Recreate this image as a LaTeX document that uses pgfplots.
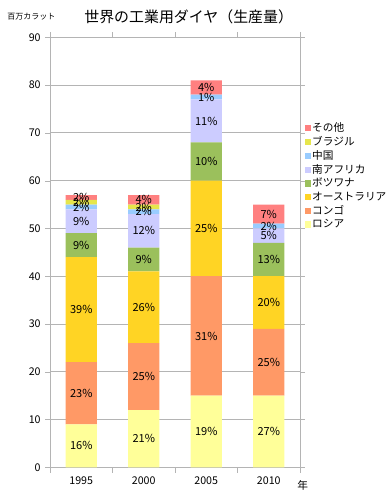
\documentclass[border=0pt]{standalone}
\usepackage{fontspec}
\setmainfont{Noto Sans CJK JP}
\usepackage{pgfplots}
\pgfplotsset{compat=1.18}
\usepackage{pgfplotstable}

\definecolor{cRus}{HTML}{FFFF99}
\definecolor{cCon}{HTML}{FF9966}
\definecolor{cAus}{HTML}{FFD424}
\definecolor{cBot}{HTML}{9BC05C}
\definecolor{cSaf}{HTML}{CCCCFF}
\definecolor{cChi}{HTML}{99CCFF}
\definecolor{cBra}{HTML}{E6E64C}
\definecolor{cOth}{HTML}{FF8080}
\definecolor{axgray}{HTML}{B4B4B4}

\pgfplotstableread{
x russia congo australia botswana safrica china brazil other
0 9 13 22 5 5 1 1 1
1 12 14 15 5 7 1 1 2
2 15 25 20 8 9 1 0 3
3 15 14 11 7 3 1 0 4
}\proddata

\pgfplotstableread{
x y lab
0 4.5 16
0 15.5 23
0 33 39
0 46.5 9
0 51.5 9
0 54.5 2
0 55.5 2
0 56.5 2
1 6 21
1 19 25
1 33.5 26
1 43.5 9
1 49.5 12
1 53.5 2
1 54.5 2
1 56 4
2 7.5 19
2 27.5 31
2 50 25
2 64 10
2 72.5 11
2 77.5 1
2 79.5 4
3 7.5 27
3 22 25
3 34.5 20
3 43.5 13
3 48.5 5
3 50.5 2
3 53 7
}\labdata

\pgfplotsset{
  sq/.style={fill=#1, draw=none,
    legend image code/.code={\fill[#1] (0pt,-2.4pt) rectangle (4.8pt,2.4pt);}},
  common/.style={
    scale only axis, width=187.5pt, height=322.5pt,
    xmin=-0.5, xmax=3.5, ymin=0, ymax=90,
  }
}

\begin{document}
\begin{tikzpicture}
\useasboundingbox (-37.5pt,-24.5pt) rectangle (255pt,350.5pt);
\begin{axis}[
  common,
  ybar stacked, bar width=0.5,
  axis line style={axgray},
  ymajorgrids, grid style={axgray, line width=0.6pt},
  ytick={0,10,...,90},
  xtick={0,1,2,3}, xticklabels={1995,2000,2005,2010},
  minor xtick={-0.5,0.5,1.5,2.5,3.5},
  major x tick style={draw=none},
  minor x tick style={axgray},
  y tick style={axgray},
  tick align=outside,
  major tick length=3.5pt, minor tick length=4pt,
  ticklabel style={font=\fontsize{8}{9}\selectfont, text=black},
  /pgf/number format/assume math mode=true,
  reverse legend,
  legend cell align=left,
  legend style={at={(axis description cs:1.018,0.805)}, anchor=north west,
    draw=none, fill=none, font=\fontsize{8}{8.5}\selectfont,
    inner sep=0pt, row sep=0.6pt,
    nodes={inner sep=0.8pt}},
  clip=false,
]
\addplot[sq=cRus] table[x=x, y=russia] {\proddata};
\addlegendentry{ロシア}
\addplot[sq=cCon] table[x=x, y=congo] {\proddata};
\addlegendentry{コンゴ}
\addplot[sq=cAus] table[x=x, y=australia] {\proddata};
\addlegendentry{オーストラリア}
\addplot[sq=cBot] table[x=x, y=botswana] {\proddata};
\addlegendentry{ボツワナ}
\addplot[sq=cSaf] table[x=x, y=safrica] {\proddata};
\addlegendentry{南アフリカ}
\addplot[sq=cChi] table[x=x, y=china] {\proddata};
\addlegendentry{中国}
\addplot[sq=cBra] table[x=x, y=brazil] {\proddata};
\addlegendentry{ブラジル}
\addplot[sq=cOth] table[x=x, y=other] {\proddata};
\addlegendentry{その他}

\node[font=\fontsize{6}{7}\selectfont] at ([xshift=-13.9pt,yshift=15.2pt]rel axis cs:0,1) {百万カラット};
\node[font=\fontsize{11.2}{12}\selectfont] at ([xshift=104pt,yshift=15.2pt]rel axis cs:0,1) {世界の工業用ダイヤ（生産量）};
\node[font=\fontsize{8}{9}\selectfont] at ([xshift=2pt,yshift=-13.5pt]rel axis cs:1,0) {年};
\end{axis}
\begin{axis}[
  common, axis lines=none, clip=false,
]
\addplot[draw=none, mark=none, nodes near coords, point meta=explicit symbolic,
  nodes near coords={\pgfplotspointmeta\%},
  every node near coord/.style={anchor=center, inner sep=0pt, text=black,
    font=\fontsize{8.3}{9}\selectfont}]
  table[x=x, y=y, meta=lab] {\labdata};
\end{axis}
\end{tikzpicture}
\end{document}
